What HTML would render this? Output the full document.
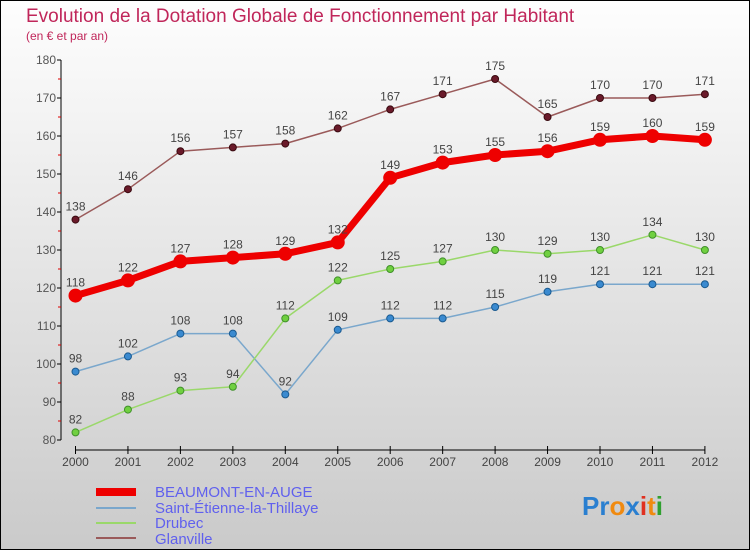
<!DOCTYPE html>
<html><head><meta charset="utf-8"><style>
body{margin:0}
svg text{font-family:"Liberation Sans",sans-serif}
</style></head><body>
<svg id="c" width="750" height="550" xmlns="http://www.w3.org/2000/svg">
<defs><linearGradient id="bg" x1="0" y1="0" x2="0" y2="1"><stop offset="0" stop-color="#fefefe"/><stop offset="1" stop-color="#cacaca"/></linearGradient></defs>
<rect x="0.5" y="0.5" width="749" height="549" fill="url(#bg)" stroke="#000"/>
<text x="26" y="22" font-size="19" fill="#c0265a">Evolution de la Dotation Globale de Fonctionnement par Habitant</text>
<text x="26" y="40" font-size="12" fill="#c0265a">(en € et par an)</text>
<g id="axes"></g>
<g id="series"></g>
<g>
<rect x="96" y="488" width="40" height="8" fill="#e00"/>
<text x="155" y="497" font-size="15" fill="#6060ee">BEAUMONT-EN-AUGE</text>
<line x1="96" y1="508" x2="136" y2="508" stroke="#7aa7cc" stroke-width="2"/>
<text x="155" y="513" font-size="15" fill="#6060ee">Saint-Étienne-la-Thillaye</text>
<line x1="96" y1="523" x2="136" y2="523" stroke="#9ad86a" stroke-width="2"/>
<text x="155" y="528" font-size="15" fill="#6060ee">Drubec</text>
<line x1="96" y1="538" x2="136" y2="538" stroke="#9a5a5a" stroke-width="2"/>
<text x="155" y="544" font-size="15" fill="#6060ee">Glanville</text>
</g>
<text x="582" y="515" font-size="26" font-weight="bold"><tspan fill="#2a7fd0">Pr</tspan><tspan fill="#f08a10">o</tspan><tspan fill="#2a7fd0">x</tspan><tspan fill="#e03020">i</tspan><tspan fill="#f08a10">t</tspan><tspan fill="#30a030">i</tspan></text>
</svg>
<script>
const years=[2000,2001,2002,2003,2004,2005,2006,2007,2008,2009,2010,2011,2012];
const yTicks=[80,90,100,110,120,130,140,150,160,170,180];
const beaumont=[118,122,127,128,129,132,149,153,155,156,159,160,159];
const stEtienne=[98,102,108,108,92,109,112,112,115,119,121,121,121];
const drubec=[82,88,93,94,112,122,125,127,130,129,130,134,130];
const glanville=[138,146,156,157,158,162,167,171,175,165,170,170,171];
const NS='http://www.w3.org/2000/svg';
const xS=i=>75.5+i*52.45;
const yS=v=>440-(v-80)*3.8;
function mk(t,a,p){const e=document.createElementNS(NS,t);for(const k in a)e.setAttribute(k,a[k]);p.appendChild(e);return e;}
const ax=document.getElementById('axes');
mk('line',{x1:61,y1:60,x2:61,y2:440,stroke:'#000'},ax);
mk('line',{x1:75,y1:450,x2:705,y2:450,stroke:'#000'},ax);
yTicks.forEach((v,i)=>{
 mk('line',{x1:57,y1:yS(v),x2:61,y2:yS(v),stroke:'#000'},ax);
 if(i<yTicks.length-1)mk('line',{x1:58,y1:yS(v+5),x2:61,y2:yS(v+5),stroke:'#d00'},ax);
 const t=mk('text',{x:56,y:yS(v)+4,'font-size':12,fill:'#555','text-anchor':'end'},ax);
 
 
 t.textContent=v;
});
years.forEach((y,i)=>{
 mk('line',{x1:xS(i),y1:446,x2:xS(i),y2:454,stroke:'#000'},ax);
 const t=mk('text',{x:xS(i),y:466,'font-size':12,fill:'#444','text-anchor':'middle'},ax);
 
 
 t.textContent=y;
});
const sg=document.getElementById('series');
function draw(name,vals,col,w,r,dot,stroke){
 const g=mk('g',{},sg);
 
 
 mk('polyline',{points:vals.map((v,i)=>xS(i)+','+yS(v)).join(' '),fill:'none',stroke:col,'stroke-width':w,'stroke-linejoin':'round'},g);
 vals.forEach((v,i)=>{
  const c=mk('circle',{cx:xS(i),cy:yS(v),r:r,fill:dot,stroke:stroke,'stroke-width':1},g);
  
  
  const t=mk('text',{x:xS(i),y:yS(v)-9,'font-size':12,fill:'#444','text-anchor':'middle'},g);
  
  
  t.textContent=v;
 });
}
draw('series-glanville',glanville,'#9a5a5a',1.5,3.5,'#6a1a2a','#3a0a10');
draw('series-saint-etienne',stEtienne,'#7aa7cc',1.5,3.5,'#3a8ad0','#1a5a90');
draw('series-drubec',drubec,'#9ad86a',1.5,3.5,'#70d040','#40902a');
draw('series-beaumont',beaumont,'#ee0000',7,6.5,'#ee0000','#ee0000');
</script>
</body></html>
